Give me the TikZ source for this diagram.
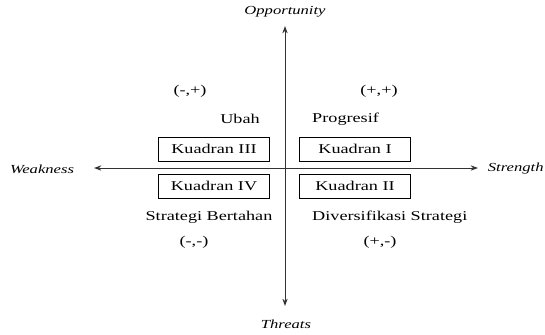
\documentclass[tikz,border=0pt]{standalone}
\usepackage{fontspec}
\setmainfont[FakeStretch=1.35]{Liberation Serif}
\usetikzlibrary{arrows.meta,positioning}

\begin{document}
\begin{tikzpicture}[x=0.03cm, y=-0.03cm, font=\rmfamily\fontsize{11.5}{13}\selectfont,
    quadbox/.style={draw, line width=0.75pt, minimum width=3.33cm, minimum height=0.72cm, inner sep=0pt},
    axislabel/.style={font=\rmfamily\fontsize{10.5}{12}\selectfont\itshape},
    axisline/.style={line width=0.85pt, black!80, {Stealth[length=2.2mm,width=1.6mm]}-{Stealth[length=2.2mm,width=1.6mm]}}]
  \useasboundingbox (0,0) rectangle (545,334);

  % axes
  \coordinate (topEnd) at (285,26);
  \coordinate (botEnd) at (285,306);
  \coordinate (leftEnd) at (94,168);
  \coordinate (rightEnd) at (478,168);
  \draw[axisline] (botEnd) -- (topEnd);
  \draw[axisline] (leftEnd) -- (rightEnd);

  \node[axislabel] (opp) at (285,12) {Opportunity};
  \node[axislabel] (thr) at (286,324) {Threats};
  \node[axislabel] (weak) at (42,169) {Weakness};
  \node[axislabel, anchor=east, inner sep=1pt] (str) at (545,169) {Strength};

  % kuadran
  \node[quadbox] (q3) at (214,149) {Kuadran III};
  \node[quadbox] (q1) at (355,149) {Kuadran I};
  \node[quadbox] (q4) at (214,186) {Kuadran IV};
  \node[quadbox] (q2) at (355,186) {Kuadran II};

  % strategi
  \node (ubah) at (240,119) {Ubah};
  \node[anchor=west, inner sep=0pt] (prog) at (312,119) {Progresif};
  \node (bert) at (209,217) {Strategi Bertahan};
  \node[anchor=west, inner sep=0pt] (div) at (312,217) {Diversifikasi Strategi};

  \node (s3) at (190,91) {(-,+)};
  \node (s1) at (379,91) {(+,+)};
  \node (s4) at (194,242) {(-,-)};
  \node (s2) at (380,242) {(+,-)};
\end{tikzpicture}
\end{document}
